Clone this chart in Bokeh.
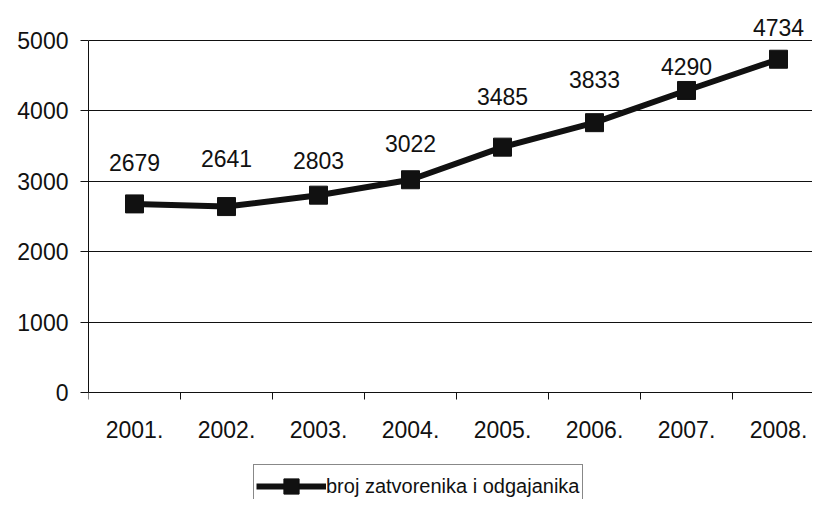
from bokeh.plotting import figure
from bokeh.models import (ColumnDataSource, Range1d, FixedTicker, LabelSet,
                          Legend, LegendItem)
from bokeh.core.properties import value
from bokeh.embed import file_html
from bokeh.resources import INLINE

# ---- data ----
years = ["2001.", "2002.", "2003.", "2004.", "2005.", "2006.", "2007.", "2008."]
prisoners = [2679, 2641, 2803, 3022, 3485, 3833, 4290, 4734]
series_name = "broj zatvorenika i odgajanika"
y_ticks = [0, 1000, 2000, 3000, 4000, 5000]

# ---- style / layout ----
label_lift_px = [41, 48, 35, 36, 51, 43, 24, 32]   # label offsets above points
FONT = "Liberation Sans"
FS = "23px"
LEG_FS = "20px"
INK = "#111111"
W, H = 812, 499
TOP_TICK_PX, ZERO_PX, LEFT = 40, 392, 88   # pixel rows of y=5000 and y=0, frame left
CAT_PX = 92.0                              # pixels per category

idx = list(range(len(years)))
src = ColumnDataSource(dict(x=idx, y=prisoners,
                            txt=[str(v) for v in prisoners],
                            lift=label_lift_px))

y_top_tick = y_ticks[-1]
units_per_px = y_top_tick / (ZERO_PX - TOP_TICK_PX)
y_min = -(H - ZERO_PX) * units_per_px
y_max = y_top_tick + TOP_TICK_PX * units_per_px
x_end = -0.5 + (W - LEFT) / CAT_PX

p = figure(width=W, height=H, output_backend="svg", toolbar_location=None,
           x_range=Range1d(-0.5, x_end), y_range=Range1d(y_min, y_max),
           min_border_left=LEFT, min_border_right=0, min_border_top=0,
           min_border_bottom=0)
p.outline_line_color = None
p.background_fill_color = "white"
p.border_fill_color = "white"

# grid
p.xgrid.grid_line_color = None
p.ygrid.grid_line_color = INK
p.ygrid.grid_line_width = 1
p.ygrid.ticker = FixedTicker(ticks=y_ticks)

# y axis
p.yaxis.ticker = FixedTicker(ticks=y_ticks)
p.yaxis.bounds = (0, y_top_tick)
p.yaxis.axis_line_color = INK
p.yaxis.major_tick_line_color = INK
p.yaxis.major_tick_out = 8
p.yaxis.major_tick_in = 0
p.yaxis.minor_tick_line_color = None
p.yaxis.major_label_standoff = 12
p.yaxis.major_label_text_font = FONT
p.yaxis.major_label_text_font_size = FS
p.yaxis.major_label_text_color = INK

# x axis at y = 0: labels at categories, tick marks at category boundaries
p.xaxis.fixed_location = 0
p.xaxis.ticker = FixedTicker(ticks=idx, minor_ticks=[i - 0.5 for i in idx])
p.xaxis.major_label_overrides = {i: y for i, y in zip(idx, years)}
p.xaxis.axis_line_color = INK
p.xaxis.major_tick_line_color = None
p.xaxis.major_tick_out = 0
p.xaxis.major_tick_in = 0
p.xaxis.minor_tick_line_color = INK
p.xaxis.minor_tick_out = 7
p.xaxis.minor_tick_in = 0
p.xaxis.major_label_standoff = 21
p.xaxis.major_label_text_font = FONT
p.xaxis.major_label_text_font_size = FS
p.xaxis.major_label_text_color = INK

# series
ln = p.line("x", "y", source=src, line_color=INK, line_width=6)
sc = p.scatter("x", "y", source=src, marker="square", size=18,
               fill_color=INK, line_color=INK)

labels = LabelSet(x="x", y="y", text="txt", source=src, y_offset="lift",
                  text_align="center", text_baseline="middle",
                  text_font=value(FONT), text_font_size=value(FS),
                  text_color=INK)
p.add_layout(labels)

legend = Legend(items=[LegendItem(label=series_name, renderers=[ln, sc])],
                location=(165, -9), orientation="horizontal",
                glyph_width=70, glyph_height=38, padding=2, margin=0,
                label_standoff=0, label_text_font=FONT,
                label_text_font_size=LEG_FS, label_text_color=INK,
                border_line_color=INK, border_line_width=1,
                background_fill_color="white", background_fill_alpha=1)
p.add_layout(legend)

open("out.html", "w").write(file_html(p, INLINE))
